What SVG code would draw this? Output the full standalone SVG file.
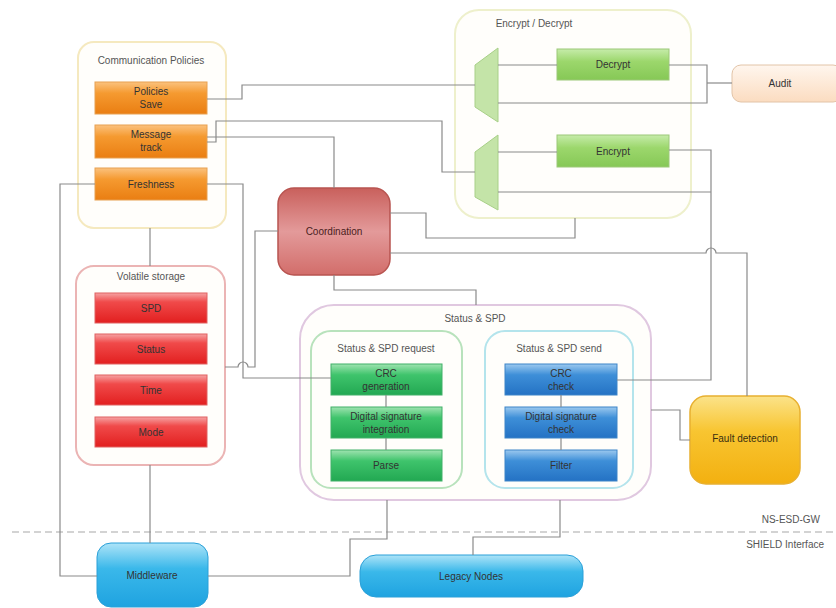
<svg xmlns="http://www.w3.org/2000/svg" width="836" height="608" viewBox="0 0 836 608">
  <defs>
    <linearGradient id="gOrange" x1="0" y1="0" x2="0" y2="1">
      <stop offset="0" stop-color="#fbc27e"/>
      <stop offset="0.35" stop-color="#f59a30"/>
      <stop offset="1" stop-color="#ea7e12"/>
    </linearGradient>
    <linearGradient id="gRed" x1="0" y1="0" x2="0" y2="1">
      <stop offset="0" stop-color="#f6a3a3"/>
      <stop offset="0.3" stop-color="#f04a4a"/>
      <stop offset="1" stop-color="#e21f1f"/>
    </linearGradient>
    <linearGradient id="gGreen" x1="0" y1="0" x2="0" y2="1">
      <stop offset="0" stop-color="#9fe3b0"/>
      <stop offset="0.35" stop-color="#3fc46c"/>
      <stop offset="1" stop-color="#22a852"/>
    </linearGradient>
    <linearGradient id="gBlue" x1="0" y1="0" x2="0" y2="1">
      <stop offset="0" stop-color="#9cc9ef"/>
      <stop offset="0.35" stop-color="#3e8fd8"/>
      <stop offset="1" stop-color="#2472c4"/>
    </linearGradient>
    <linearGradient id="gLime" x1="0" y1="0" x2="0" y2="1">
      <stop offset="0" stop-color="#c6ecaa"/>
      <stop offset="0.4" stop-color="#9cd76c"/>
      <stop offset="1" stop-color="#86c856"/>
    </linearGradient>
    <linearGradient id="gCoord" x1="0" y1="0" x2="0" y2="1">
      <stop offset="0" stop-color="#c9605c"/>
      <stop offset="0.5" stop-color="#e39a9a"/>
      <stop offset="1" stop-color="#d26d6a"/>
    </linearGradient>
    <linearGradient id="gFault" x1="0" y1="0" x2="0" y2="1">
      <stop offset="0" stop-color="#fbe38a"/>
      <stop offset="0.4" stop-color="#f8c531"/>
      <stop offset="1" stop-color="#f3b010"/>
    </linearGradient>
    <linearGradient id="gCyan" x1="0" y1="0" x2="0" y2="1">
      <stop offset="0" stop-color="#aee4f8"/>
      <stop offset="0.4" stop-color="#3ab8ea"/>
      <stop offset="1" stop-color="#1fa3e0"/>
    </linearGradient>
    <linearGradient id="gAudit" x1="0" y1="0" x2="0" y2="1">
      <stop offset="0" stop-color="#fff6ee"/>
      <stop offset="1" stop-color="#fbdcc0"/>
    </linearGradient>
  </defs>
  <style>
    text { font-family: "Liberation Sans", Arial, sans-serif; font-size: 10px; fill: #333; text-anchor: middle; }
    .ttl { fill: #555; }
    .wire { fill: none; stroke: #8a8a8a; stroke-width: 1.2; }
    .cont { fill: #fffefb; stroke-width: 2; }
    .box { stroke-width: 1; }
  </style>

  <rect width="836" height="608" fill="#ffffff"/>

  <!-- boundary between gateway and interface -->
  <line x1="12" y1="532" x2="836" y2="532" stroke="#a8a8a8" stroke-width="1.2" stroke-dasharray="7,4"/>
  <text x="820" y="523" style="text-anchor:end" class="ttl">NS-ESD-GW</text>
  <text x="824" y="548" style="text-anchor:end" class="ttl">SHIELD Interface</text>

  <!-- containers -->
  <g id="comm-policies">
    <rect class="cont" x="78" y="42" width="148" height="186" rx="16" stroke="#f5e9bf"/>
    <text x="151" y="64" class="ttl">Communication Policies</text>
    <g id="policies-save">
      <rect class="box" x="95" y="82" width="112" height="32" fill="url(#gOrange)" stroke="#e8a050"/>
      <text x="151" y="95">Policies</text>
      <text x="151" y="108">Save</text>
    </g>
    <g id="message-track">
      <rect class="box" x="95" y="125" width="112" height="33" fill="url(#gOrange)" stroke="#e8a050"/>
      <text x="151" y="138">Message</text>
      <text x="151" y="151">track</text>
    </g>
    <g id="freshness">
      <rect class="box" x="95" y="168" width="112" height="32" fill="url(#gOrange)" stroke="#e8a050"/>
      <text x="151" y="188">Freshness</text>
    </g>
  </g>

  <g id="volatile-storage">
    <rect class="cont" x="76" y="266" width="149" height="199" rx="18" stroke="#ebb4b4" stroke-width="1.5"/>
    <text x="151" y="280" class="ttl">Volatile storage</text>
    <g id="spd">
      <rect class="box" x="95" y="293" width="112" height="30" fill="url(#gRed)" stroke="#e06060"/>
      <text x="151" y="312">SPD</text>
    </g>
    <g id="status">
      <rect class="box" x="95" y="334" width="112" height="30" fill="url(#gRed)" stroke="#e06060"/>
      <text x="151" y="353">Status</text>
    </g>
    <g id="time">
      <rect class="box" x="95" y="375" width="112" height="30" fill="url(#gRed)" stroke="#e06060"/>
      <text x="151" y="394">Time</text>
    </g>
    <g id="mode">
      <rect class="box" x="95" y="417" width="112" height="30" fill="url(#gRed)" stroke="#e06060"/>
      <text x="151" y="436">Mode</text>
    </g>
  </g>

  <g id="encrypt-decrypt">
    <rect class="cont" x="455" y="10" width="236" height="208" rx="24" stroke="#eef0cc"/>
    <text x="534" y="27" class="ttl">Encrypt / Decrypt</text>
    <polygon points="475,65 498,48 498,122 475,107" fill="#c4e4a8" stroke="#a8d088"/>
    <polygon points="475,152 498,135 498,210 475,197" fill="#c4e4a8" stroke="#a8d088"/>
    <g id="decrypt">
      <rect class="box" x="557" y="49" width="112" height="31" fill="url(#gLime)" stroke="#9cc878"/>
      <text x="613" y="68">Decrypt</text>
    </g>
    <g id="encrypt">
      <rect class="box" x="557" y="135" width="112" height="32" fill="url(#gLime)" stroke="#9cc878"/>
      <text x="613" y="155">Encrypt</text>
    </g>
  </g>

  <g id="status-spd">
    <rect class="cont" x="300" y="305" width="351" height="195" rx="34" stroke="#e0c8e0" stroke-width="1.5"/>
    <text x="475" y="322" class="ttl">Status &amp; SPD</text>
    <g id="status-spd-request">
      <rect class="cont" x="311" y="331" width="151" height="157" rx="20" stroke="#b8e2bc" stroke-width="1.5"/>
      <text x="386" y="352" class="ttl">Status &amp; SPD request</text>
      <g id="crc-generation">
        <rect class="box" x="331" y="364" width="111" height="31" fill="url(#gGreen)" stroke="#40b068"/>
        <text x="386" y="377">CRC</text>
        <text x="386" y="390">generation</text>
      </g>
      <g id="digital-signature-integration">
        <rect class="box" x="331" y="407" width="111" height="31" fill="url(#gGreen)" stroke="#40b068"/>
        <text x="386" y="420">Digital signature</text>
        <text x="386" y="433">integration</text>
      </g>
      <g id="parse">
        <rect class="box" x="331" y="450" width="111" height="31" fill="url(#gGreen)" stroke="#40b068"/>
        <text x="386" y="469">Parse</text>
      </g>
    </g>
    <g id="status-spd-send">
      <rect class="cont" x="485" y="331" width="148" height="157" rx="20" stroke="#b4e4ec" stroke-width="1.5"/>
      <text x="559" y="352" class="ttl">Status &amp; SPD send</text>
      <g id="crc-check">
        <rect class="box" x="505" y="364" width="112" height="31" fill="url(#gBlue)" stroke="#3c84c8"/>
        <text x="561" y="377">CRC</text>
        <text x="561" y="390">check</text>
      </g>
      <g id="digital-signature-check">
        <rect class="box" x="505" y="407" width="112" height="31" fill="url(#gBlue)" stroke="#3c84c8"/>
        <text x="561" y="420">Digital signature</text>
        <text x="561" y="433">check</text>
      </g>
      <g id="filter">
        <rect class="box" x="505" y="450" width="112" height="31" fill="url(#gBlue)" stroke="#3c84c8"/>
        <text x="561" y="469">Filter</text>
      </g>
    </g>
  </g>

  <g id="coordination">
    <rect x="278" y="188" width="112" height="87" rx="16" fill="url(#gCoord)" stroke="#b85450" stroke-width="1.5"/>
    <text x="334" y="235" style="fill:#4a2020">Coordination</text>
  </g>

  <g id="audit">
    <rect x="732" y="65" width="110" height="37" rx="9" fill="url(#gAudit)" stroke="#e2c4a8"/>
    <text x="780" y="87">Audit</text>
  </g>

  <g id="fault-detection">
    <rect x="690" y="396" width="110" height="88" rx="16" fill="url(#gFault)" stroke="#e8b030" stroke-width="1.5"/>
    <text x="745" y="442" style="fill:#3a3010">Fault detection</text>
  </g>

  <g id="middleware">
    <rect x="97" y="543" width="111" height="64" rx="14" fill="url(#gCyan)" stroke="#2aa0d8"/>
    <text x="152" y="579">Middleware</text>
  </g>

  <g id="legacy-nodes">
    <rect x="360" y="555" width="223" height="42" rx="16" fill="url(#gCyan)" stroke="#2aa0d8"/>
    <text x="471" y="580">Legacy Nodes</text>
  </g>

  <!-- connectors -->
  <g id="connectors" class="wire">
    <!-- policies save to upper selector -->
    <path d="M207,99 H242 V85 H475"/>
    <!-- message track to lower selector -->
    <path d="M207,142 H216 V121 H442 V172 H475"/>
    <!-- message track to coordination -->
    <path d="M207,137 H334 V188"/>
    <!-- freshness to CRC generation -->
    <path d="M207,184 H243 V378 H331"/>
    <!-- freshness to middleware -->
    <path d="M95,184 H60 V576 H97"/>
    <!-- policies / storage / middleware spine -->
    <path d="M150,228 V266"/>
    <path d="M150,465 V543"/>
    <!-- volatile storage to coordination, hopping the freshness wire -->
    <path d="M225,367 H238 A5,5 0 0 1 248,367 H255 V231 H278"/>
    <!-- selectors to decrypt / encrypt -->
    <path d="M498,65 H557"/>
    <path d="M498,152 H557"/>
    <!-- decrypt to audit -->
    <path d="M669,65 H707 V103 H498"/>
    <path d="M707,83 H732"/>
    <!-- encrypt return and CRC check -->
    <path d="M669,150 H711 V380 H617"/>
    <path d="M498,192 H711"/>
    <!-- coordination to encrypt/decrypt -->
    <path d="M390,213 H426 V238 H575 V218"/>
    <!-- coordination to fault detection -->
    <path d="M390,253 H706 A5,5 0 0 1 716,253 H747 V396"/>
    <!-- coordination to status & spd -->
    <path d="M334,275 V290 H476 V305"/>
    <!-- status & spd to fault detection -->
    <path d="M651,410 H680 V440 H690"/>
    <!-- chains inside request / send -->
    <path d="M386,395 V407 M386,438 V450"/>
    <path d="M561,395 V407 M561,438 V450"/>
    <!-- status & spd to middleware and legacy nodes -->
    <path d="M387,500 V539 H350 V576 H208"/>
    <path d="M560,500 V537 H473 V555"/>
  </g>
</svg>
